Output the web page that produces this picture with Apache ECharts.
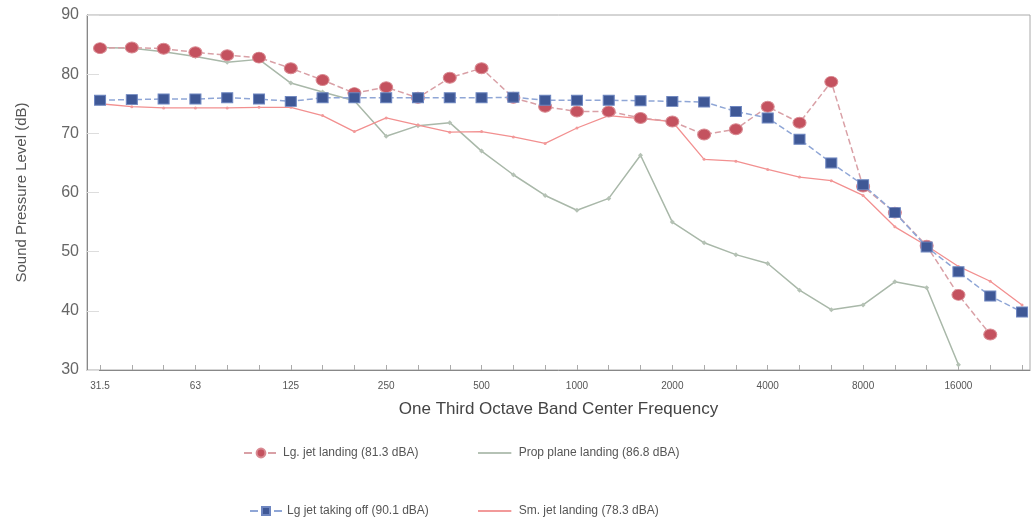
<!DOCTYPE html>
<html>
<head>
<meta charset="utf-8">
<script src="https://cdn.jsdelivr.net/npm/echarts@6/dist/echarts.min.js"></script>
<style>
  html, body { margin: 0; padding: 0; background: #fff; }
  #chartsDOM { width: 1034px; height: 525px; }
</style>
</head>
<body>
<div id="chartsDOM"></div>
<script>
// one third octave bands (Hz)
var bands = ['31.5', '40', '50', '63', '80', '100', '125', '160', '200', '250',
    '315', '400', '500', '630', '800', '1000', '1250', '1600', '2000', '2500',
    '3150', '4000', '5000', '6300', '8000', '10000', '12500', '16000', '20000', '25000'];
// labelled bands (every octave)
var labelIdx = [0, 3, 6, 9, 12, 15, 18, 21, 24, 27];

var lgJetLanding = [84.4, 84.5, 84.3, 83.7, 83.2, 82.8, 81, 79, 76.8, 77.8,
    76, 79.4, 81, 76, 74.5, 73.7, 73.7, 72.6, 72, 69.8,
    70.7, 74.5, 71.8, 78.7, 61, 56.6, 51, 42.7, 36, null];
var lgJetTakeoff = [75.6, 75.7, 75.8, 75.8, 76, 75.8, 75.4, 76, 76, 76,
    76, 76, 76, 76.1, 75.6, 75.6, 75.6, 75.5, 75.4, 75.3,
    73.7, 72.6, 69, 65, 61.3, 56.6, 50.8, 46.6, 42.5, 39.8];
var propLanding = [84.5, 84.4, 83.8, 83, 82, 82.5, 78.5, 77, 75.5, 69.5,
    71.3, 71.8, 67, 63, 59.5, 57, 59, 66.3, 55, 51.5,
    49.5, 48, 43.5, 40.2, 41, 44.9, 43.9, 30.9, null, null];
var smJetLanding = [75, 74.5, 74.3, 74.3, 74.3, 74.4, 74.4, 73, 70.3, 72.6,
    71.4, 70.2, 70.3, 69.4, 68.3, 70.9, 73, 72.5, 72, 65.6,
    65.3, 63.9, 62.6, 62, 59.5, 54.2, 51, 47.5, 45, 41];

var names = ['Lg. jet landing (81.3 dBA)', 'Prop plane landing (86.8 dBA)',
    'Lg jet taking off (90.1 dBA)', 'Sm. jet landing (78.3 dBA)'];

function pairs(arr) {
    return arr.map(function (v, i) { return [i, v]; });
}
var allIdx = bands.map(function (b, i) { return i; });

var myChart = echarts.init(document.getElementById('chartsDOM'));
var legendText = { fontFamily: 'Liberation Sans', fontSize: 12, color: '#555' };
var lineIcon = 'path://M0,0 L100,0 L100,6 L0,6 Z';

var option = {
    animation: false,
    grid: {
        left: 87, top: 15, right: 4, bottom: 155,
        show: true, borderColor: '#aaa', borderWidth: 1
    },
    legend: [
        { data: [names[0]], left: 238, top: 442, itemWidth: 34, itemHeight: 11, textStyle: legendText },
        { data: [{ name: names[1], icon: lineIcon }], left: 473, top: 442, itemWidth: 38, itemHeight: 2, textStyle: legendText },
        { data: [names[2]], left: 244, top: 500, itemWidth: 32, itemHeight: 10, textStyle: legendText },
        { data: [{ name: names[3], icon: lineIcon }], left: 473, top: 500, itemWidth: 38, itemHeight: 2, textStyle: legendText }
    ],
    xAxis: {
        type: 'value',
        min: -0.41,
        max: 29.25,
        name: 'One Third Octave Band Center Frequency',
        nameLocation: 'middle',
        nameGap: 31,
        nameTextStyle: { fontFamily: 'Liberation Sans', fontSize: 17, color: '#444' },
        axisLine: { onZero: false, lineStyle: { color: '#888' } },
        axisTick: { inside: true, length: 5, customValues: allIdx, lineStyle: { color: '#aaa' } },
        axisLabel: {
            customValues: labelIdx,
            fontFamily: 'Liberation Sans', fontSize: 10, color: '#555', margin: 11,
            formatter: function (v) { return bands[Math.round(v)]; }
        },
        splitLine: { show: false }
    },
    yAxis: {
        type: 'value',
        min: 30,
        max: 90,
        interval: 10,
        name: 'Sound Pressure Level (dB)',
        nameLocation: 'middle',
        nameGap: 58,
        nameTextStyle: { fontFamily: 'Liberation Sans', fontSize: 15, color: '#555' },
        axisLine: { show: true, onZero: false, lineStyle: { color: '#888' } },
        axisTick: { show: true, inside: true, length: 12, lineStyle: { color: '#ddd' } },
        axisLabel: { fontFamily: 'Liberation Sans', fontSize: 16, color: '#666', margin: 8 },
        splitLine: { show: false }
    },
    series: [
        {
            name: names[0], type: 'line', data: pairs(lgJetLanding), z: 4,
            symbol: 'circle', symbolSize: [13, 11],
            itemStyle: { color: '#c4525f', borderColor: '#d98a92', borderWidth: 1 },
            lineStyle: { color: '#d9a0a6', width: 1.5, type: 'dashed' }
        },
        {
            name: names[1], type: 'line', data: pairs(propLanding), z: 2,
            symbol: 'diamond', symbolSize: 5,
            itemStyle: { color: '#b5c2b5' },
            lineStyle: { color: '#a9b8a9', width: 1.5 }
        },
        {
            name: names[2], type: 'line', data: pairs(lgJetTakeoff), z: 5,
            symbol: 'rect', symbolSize: [11, 10],
            itemStyle: { color: '#3f5896', borderColor: '#6e86c0', borderWidth: 1 },
            lineStyle: { color: '#8fa6d6', width: 1.5, type: 'dashed' }
        },
        {
            name: names[3], type: 'line', data: pairs(smJetLanding), z: 3,
            symbol: 'circle', symbolSize: 3,
            itemStyle: { color: '#f29a9a' },
            lineStyle: { color: '#f29090', width: 1.3 }
        }
    ]
};
myChart.setOption(option);
</script>
</body>
</html>
